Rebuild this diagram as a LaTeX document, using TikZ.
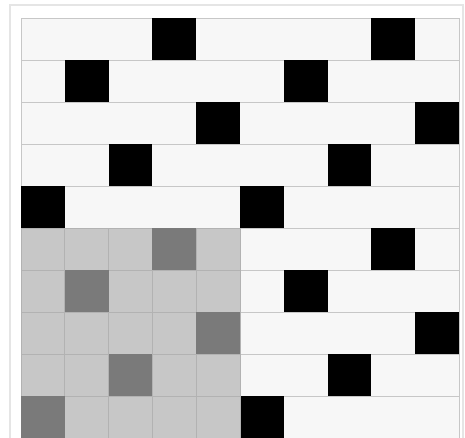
\documentclass[tikz,border=0pt]{standalone}
\usepackage{xcolor}
\usepackage{tikz}
\usetikzlibrary{calc}

\begin{document}
\begin{tikzpicture}[x=1.314cm, y=-1.26cm,
    hang/.style={draw=black!22, fill=black!3, line width=0.6pt},
    oden/.style={fill=black},
    onhat/.style={draw=black!30, fill=black!22, line width=0.5pt},
    oxam/.style={fill=black!52}]
    % Khung hình
    \path[use as bounding box, fill=white] (-0.479,-0.4286) rectangle (10.137,9.976);
    \clip (-0.479,-0.4286) rectangle (10.137,9.976);
    \draw[black!10, line width=1pt] (-0.251,-0.31) rectangle (10.09,10.5);
    
    % Các hàng trắng
    \foreach \r in {0,...,4}
        \draw[hang] (0,\r) rectangle (10,\r+1);
    \foreach \r in {5,...,9}
        \draw[hang] (5,\r) rectangle (10,\r+1);
    
    % Ô đen
    \foreach \r/\a in {0/3,1/1,2/4,3/2,4/0}{
        \fill[oden] (\a,\r) rectangle ++(1,1);
        \fill[oden] (\a+5,\r) rectangle ++(1,1);
        \fill[oden] (\a+5,\r+5) rectangle ++(1,1);
    }
    
    % Vùng xám 5x5
    \foreach \r in {5,...,9}
        \foreach \c in {0,...,4}
            \draw[onhat] (\c,\r) rectangle ++(1,1);
    \foreach \r/\a in {5/3,6/1,7/4,8/2,9/0}
        \fill[oxam] (\a,\r) rectangle ++(1,1);
\end{tikzpicture}
\end{document}
